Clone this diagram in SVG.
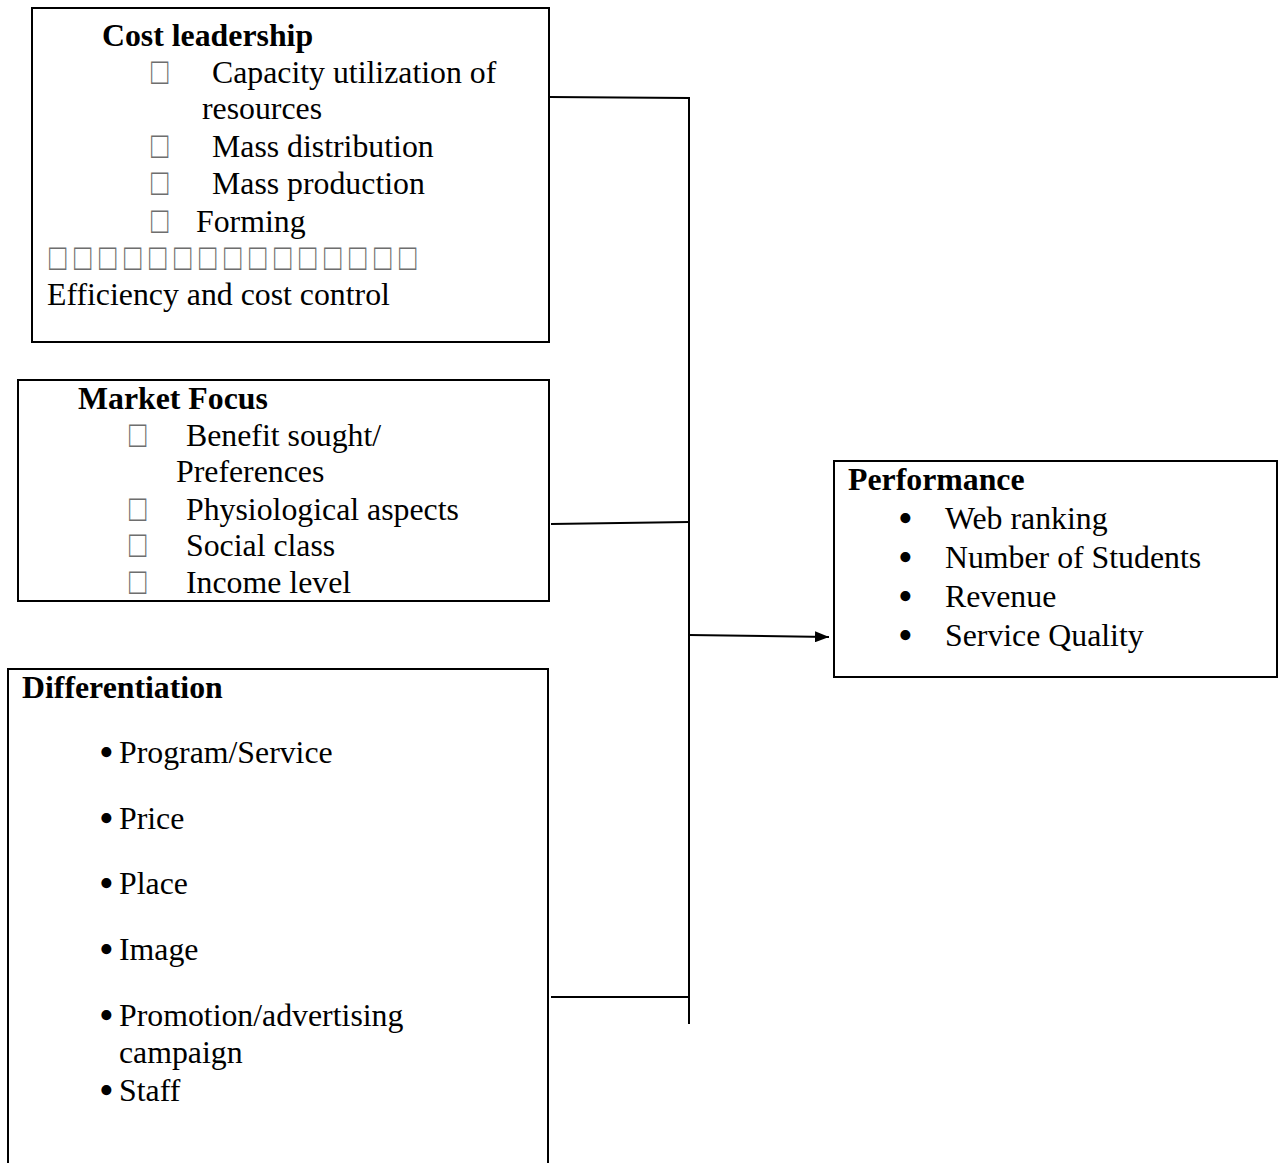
<svg xmlns="http://www.w3.org/2000/svg" width="1278" height="1163" viewBox="0 0 1278 1163">
<style>
text{font-family:"Liberation Serif","Times New Roman",serif;font-size:31.8px;fill:#000}
.b{font-weight:bold}
.sq{fill:#6e6e6e;font-family:"Liberation Serif","DejaVu Serif",serif;font-size:29px}
.bu{font-size:42px}
.box{fill:#fff;stroke:#000;stroke-width:2}
.ln{fill:none;stroke:#000;stroke-width:2}
</style>
<defs>
<marker id="arr" viewBox="0 0 10 10" refX="10" refY="5" markerWidth="14" markerHeight="11" markerUnits="userSpaceOnUse" orient="auto" preserveAspectRatio="none">
<path d="M0,0L10,5L0,10z" fill="#000"/>
</marker>
</defs>
<rect width="1278" height="1163" fill="#fff"/>
<g id="connectors">
<polyline class="ln" points="549,97 689,98 689,1024"/>
<line class="ln" x1="551" y1="524" x2="689" y2="522"/>
<line class="ln" x1="551" y1="997" x2="689" y2="997"/>
<line class="ln" x1="689" y1="635" x2="829" y2="637" marker-end="url(#arr)"/>
</g>
<g id="cost-leadership">
<rect class="box" x="32" y="8" width="517" height="334"/>
<text class="b" x="102" y="46">Cost leadership</text>
<text class="sq" transform="translate(151,84) scale(1,1.3)">□</text><text x="212" y="83">Capacity utilization of</text>
<text x="202" y="119">resources</text>
<text class="sq" transform="translate(151,158) scale(1,1.3)">□</text><text x="212" y="157">Mass distribution</text>
<text class="sq" transform="translate(151,195) scale(1,1.3)">□</text><text x="212" y="194">Mass production</text>
<text class="sq" transform="translate(151,233) scale(1,1.3)">□</text><text x="196" y="232">Forming</text>
<text class="sq" transform="translate(0,270) scale(1,1.3)" x="49 74 99 124 149 174 199 224 249 274 299 324 349 374 399" y="0">□□□□□□□□□□□□□□□</text>
<text x="47" y="305">Efficiency and cost control</text>
</g>
<g id="market-focus">
<rect class="box" x="18" y="380" width="531" height="221"/>
<text class="b" x="78" y="409">Market Focus</text>
<text class="sq" transform="translate(129,447) scale(1,1.3)">□</text><text x="186" y="446">Benefit sought/</text>
<text x="176" y="482">Preferences</text>
<text class="sq" transform="translate(129,521) scale(1,1.3)">□</text><text x="186" y="520">Physiological aspects</text>
<text class="sq" transform="translate(129,557) scale(1,1.3)">□</text><text x="186" y="556">Social class</text>
<text class="sq" transform="translate(129,594) scale(1,1.3)">□</text><text x="186" y="593">Income level</text>
</g>
<g id="differentiation">
<path class="box" d="M8,1170V669H548V1170"/>
<text class="b" x="22" y="698">Differentiation</text>
<text class="bu" x="99" y="766">•</text><text x="119" y="763">Program/Service</text>
<text class="bu" x="99" y="832">•</text><text x="119" y="829">Price</text>
<text class="bu" x="99" y="897">•</text><text x="119" y="894">Place</text>
<text class="bu" x="99" y="963">•</text><text x="119" y="960">Image</text>
<text class="bu" x="99" y="1029">•</text><text x="119" y="1026">Promotion/advertising</text>
<text x="119" y="1063">campaign</text>
<text class="bu" x="99" y="1104">•</text><text x="119" y="1101">Staff</text>
</g>
<g id="performance">
<rect class="box" x="834" y="461" width="443" height="216"/>
<text class="b" x="848" y="490">Performance</text>
<text class="bu" x="898" y="532">•</text><text x="945" y="529">Web ranking</text>
<text class="bu" x="898" y="571">•</text><text x="945" y="568">Number of Students</text>
<text class="bu" x="898" y="610">•</text><text x="945" y="607">Revenue</text>
<text class="bu" x="898" y="649">•</text><text x="945" y="646">Service Quality</text>
</g>
</svg>
